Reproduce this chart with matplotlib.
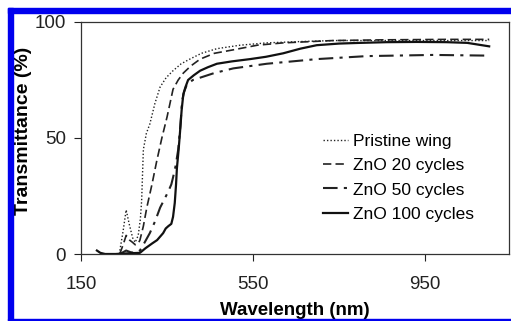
import numpy as np
import matplotlib.pyplot as plt
from matplotlib.patches import Rectangle

plt.rcParams['font.family'] = ['Liberation Sans', 'DejaVu Sans']

# wavelength (nm) / transmittance (%)
pristine_x = [239, 248, 255, 262, 270, 276, 283, 288, 291, 295, 302, 310, 322, 334, 348, 364, 383, 403, 430, 466, 520, 582, 650, 736, 850, 1000, 1099]
pristine_y = [0, 10, 19, 13, 7, 5, 8, 15, 23, 45, 52, 56, 65, 72, 76, 79, 82, 84, 86.5, 88.5, 90, 91, 91.5, 92, 92, 92, 92]

zno20_x = [240, 248, 255, 263, 270, 276, 283, 287, 295, 303, 315, 326, 338, 350, 364, 376, 388, 405, 427, 460, 504, 560, 620, 736, 850, 1000, 1099]
zno20_y = [0, 4, 8, 6, 5, 4, 4.5, 6, 12, 20, 30, 40, 50, 59, 71, 75, 78, 81, 84, 86.5, 88, 90, 91, 92, 92.3, 92.5, 92.5]

zno50_x = [240, 255, 265, 275, 287, 298, 310, 322, 334, 345, 353, 360, 364, 370, 376, 381, 385, 390, 396, 410, 427, 460, 504, 582, 698, 815, 969, 1099]
zno50_y = [0, 1.5, 0.8, 0.5, 1.5, 5, 9, 14, 20, 24, 27, 30, 33, 38, 45, 55, 66, 70, 73, 75, 76, 78, 80, 82, 84, 85.3, 85.8, 85.5]

zno100_x = [187, 195, 206, 230, 260, 287, 300, 315, 327, 341, 347, 353, 360, 364, 368, 371, 373, 377, 380, 384, 388, 393, 399, 412, 427, 445, 466, 500, 543, 580, 620, 660, 698, 750, 799, 860, 931, 1000, 1048, 1099]
zno100_y = [1.5, 0.5, 0, 0, 0.3, 0.5, 2.5, 4.5, 6, 9, 11, 12, 13, 16, 22, 30, 37, 45, 52, 62, 69, 72, 75, 77, 79, 80.5, 82, 83, 84, 85, 86.5, 88.5, 90, 90.7, 91, 91.3, 91.4, 91.3, 91, 89.5]

fig = plt.figure(figsize=(5.11, 3.21), dpi=100)
ax = fig.add_axes([0.1585, 0.2087, 0.996 - 0.1585, 0.9315 - 0.2087])

ax.plot(pristine_x, pristine_y, color='#222222', lw=1.0, ls=(0, (1, 1.5)), label='Pristine wing')
ax.plot(zno20_x, zno20_y, color='#222222', lw=1.2, ls=(0, (5, 2.5)), label='ZnO 20 cycles')
ax.plot(zno50_x, zno50_y, color='#222222', lw=1.5, ls=(0, (7, 3, 1.5, 3)), label='ZnO 50 cycles')
ax.plot(zno100_x, zno100_y, color='#111111', lw=1.6, ls='-', label='ZnO 100 cycles')

ax.set_xlim(150, 1145)
ax.set_ylim(0, 100)
ax.set_xticks([150, 550, 950])
ax.set_yticks([0, 50, 100])
ax.tick_params(direction='out', length=5, width=0.8, labelsize=13.5, colors='#222222')
ax.tick_params(axis='x', pad=11)
ax.tick_params(axis='y', pad=6)
for s in ax.spines.values():
    s.set_linewidth(0.9)
    s.set_color('#333333')

ax.set_xlabel('Wavelength (nm)', fontsize=13.5, fontweight='bold')
ax.set_ylabel('Transmittance (%)', fontsize=14, fontweight='bold')
ax.xaxis.set_label_coords(0.5, -0.205)
ax.yaxis.set_label_coords(-0.1145, 0.53)

ax.legend(loc='center left', bbox_to_anchor=(0.565, 0.328), frameon=False, fontsize=12.5,
          handlelength=1.45, handletextpad=0.3, labelspacing=0.52, borderpad=0, borderaxespad=0)

# blue frame round the figure
blue = '#0000ee'
fig.patches.append(Rectangle((8 / 511, 1 - 13 / 321), 1, 5 / 321, transform=fig.transFigure, color=blue, zorder=0))
fig.patches.append(Rectangle((8 / 511, 0), 5 / 511, 1 - 8 / 321, transform=fig.transFigure, color=blue, zorder=0))
fig.patches.append(Rectangle((8 / 511, 1 / 321), 1, 1.5 / 321, transform=fig.transFigure, color=blue, zorder=0))

fig.savefig('out.png', dpi=100)
